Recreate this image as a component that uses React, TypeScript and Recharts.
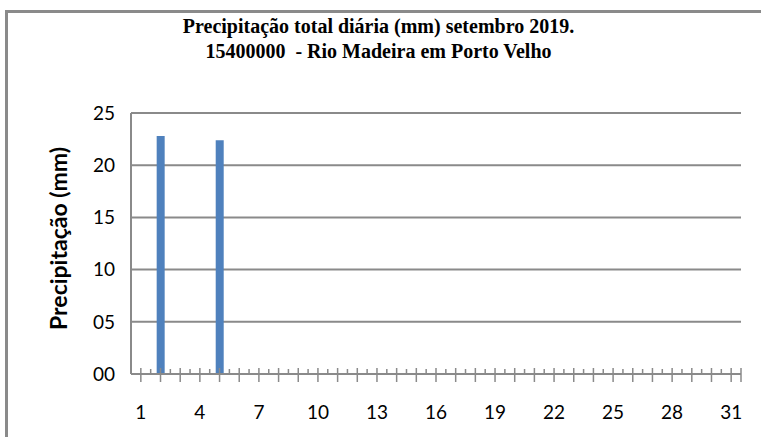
import React from "react";
import { BarChart, Bar, XAxis, YAxis, CartesianGrid } from "recharts";

// dias de setembro 2019
const days = Array.from({ length: 31 }, (_, i) => String(i + 1));
// precipitação (mm) por dia
const rain = [0, 22.8, 0, 0, 22.4, 0, 0, 0, 0, 0, 0, 0, 0, 0, 0, 0, 0, 0, 0, 0, 0, 0, 0, 0, 0, 0, 0, 0, 0, 0, 0];
const yTicks = [0, 5, 10, 15, 20, 25];

const data = days.map((d, i) => ({ day: d, mm: rain[i] }));

const W = 761;
const H = 437;
const PLOT_LEFT = 131;
const PLOT_RIGHT = 741;
const BAND = (PLOT_RIGHT - PLOT_LEFT) / days.length;
const GREY = "#8a8a8a";
const FONT = "Lato, 'Open Sans', sans-serif";

const DayTick = (props: any) => {
  const { x, y, index, payload } = props;
  const left = x - BAND / 2;
  return (
    <g>
      <line x1={x} x2={x} y1={y - 6} y2={y + 8} stroke={GREY} strokeWidth={1.5} />
      <line x1={left} x2={left} y1={y - 5} y2={y} stroke={GREY} strokeWidth={1.5} />
      {index === days.length - 1 && (
        <line x1={x + BAND / 2} x2={x + BAND / 2} y1={y - 6} y2={y + 8} stroke={GREY} strokeWidth={1.5} />
      )}
      {index % 3 === 0 && (
        <text x={x} y={y + 45} textAnchor="middle" fontSize={19} fontFamily={FONT} fill="#000">
          {payload.value}
        </text>
      )}
    </g>
  );
};

const YTitle = (props: any) => {
  const { viewBox } = props;
  const cx = viewBox.x - 13;
  const cy = viewBox.y + viewBox.height / 2 - 5;
  return (
    <text
      x={cx}
      y={cy}
      transform={`rotate(-90 ${cx} ${cy})`}
      textAnchor="middle"
      dominantBaseline="central"
      fontSize={23}
      fontWeight="bold"
      fontFamily={FONT}
      fill="#000"
    >
      Precipitação (mm)
    </text>
  );
};

export default function App() {
  return (
    <div style={{ position: "absolute", left: 0, top: 0, width: W, height: H, overflow: "hidden", background: "#fff" }}>
      <div
        style={{
          position: "absolute",
          left: 5,
          top: 10,
          width: 800,
          height: 500,
          borderLeft: `3px solid ${GREY}`,
          borderTop: `3px solid ${GREY}`,
        }}
      />
      <div
        style={{
          position: "absolute",
          left: 0,
          top: 14,
          width: 757,
          textAlign: "center",
          fontFamily: "'Liberation Serif', 'Times New Roman', serif",
          fontWeight: "bold",
          fontSize: 20,
          lineHeight: "25px",
          color: "#000",
        }}
      >
        Precipitação total diária (mm) setembro 2019.
        <br />
        15400000&nbsp; - Rio Madeira em Porto Velho
      </div>
      <div style={{ position: "absolute", left: 0, top: 0 }}>
        <BarChart
          width={W}
          height={H}
          data={data}
          margin={{ top: 113, right: W - PLOT_RIGHT, bottom: 23, left: 71 }}
          barSize={8}
        >
          <CartesianGrid vertical={false} stroke={GREY} strokeWidth={2} />
          <XAxis
            dataKey="day"
            height={40}
            interval={0}
            tickLine={false}
            tickSize={0}
            tickMargin={0}
            axisLine={{ stroke: GREY, strokeWidth: 2 }}
            tick={<DayTick />}
          />
          <YAxis
            width={60}
            domain={[0, 25]}
            ticks={yTicks}
            interval={0}
            tickLine={false}
            tickSize={0}
            tickMargin={16}
            axisLine={{ stroke: GREY, strokeWidth: 2 }}
            tickFormatter={(v: number) => String(v).padStart(2, "0")}
            tick={{ fill: "#000", fontSize: 19, fontFamily: FONT }}
            label={<YTitle />}
          />
          <Bar dataKey="mm" fill="#4F81BD" isAnimationActive={false} />
        </BarChart>
      </div>
    </div>
  );
}
